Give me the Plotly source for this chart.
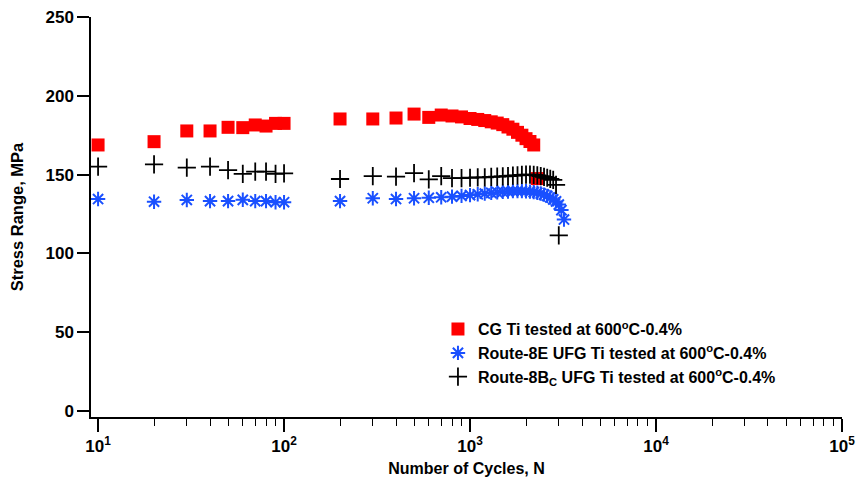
import plotly.graph_objects as go

# ---- data ----
cg_n = [10, 20, 30, 40, 50, 60, 70, 80, 90, 100, 200, 300, 400, 500, 600, 700, 800, 900,
        1000, 1100, 1200, 1300, 1400, 1500, 1600, 1700, 1800, 1900, 2000, 2100, 2200, 2300]
cg_s = [168.8, 170.9, 177.7, 177.7, 180.0, 179.8, 181.5, 180.8, 182.5, 182.5, 185.3, 185.3,
        185.9, 188.4, 186.3, 187.8, 187.2, 186.6, 185.6, 185.0, 184.3, 183.5, 182.7, 181.7,
        180.2, 178.8, 176.8, 175.0, 172.8, 171.0, 168.8, 147.5]

e_n = [10, 20, 30, 40, 50, 60, 70, 80, 90, 100, 200, 300, 400, 500, 600, 700, 800, 900,
       1000, 1100, 1200, 1300, 1400, 1500, 1600, 1700, 1800, 1900, 2000, 2100, 2200, 2300,
       2400, 2500, 2600, 2700, 2800, 2900, 3000, 3100, 3200]
e_s = [134.5, 132.8, 133.9, 133.2, 133.2, 134.0, 133.2, 133.2, 132.5, 132.5, 133.2, 135.0,
       134.5, 135.0, 135.3, 135.6, 136.0, 136.5, 137.0, 137.5, 138.0, 138.4, 138.8, 139.1,
       139.3, 139.5, 139.5, 139.5, 139.4, 139.2, 138.9, 138.5, 138.0, 137.3, 136.5, 135.5,
       134.3, 133.0, 131.0, 127.5, 121.5]

bc_n = [10, 20, 30, 40, 50, 60, 70, 80, 90, 100, 200, 300, 400, 500, 600, 700, 800, 900,
        1000, 1100, 1200, 1300, 1400, 1500, 1600, 1700, 1800, 1900, 2000, 2100, 2200, 2300,
        2400, 2500, 2600, 2700, 2800, 2900, 3000]
bc_s = [155.0, 156.5, 154.4, 155.0, 152.9, 150.4, 151.9, 151.9, 150.4, 150.8, 147.2, 149.0,
        148.7, 151.0, 147.0, 149.0, 147.8, 147.8, 148.0, 148.2, 148.3, 148.5, 148.7, 148.9,
        149.0, 149.3, 149.5, 149.8, 150.0, 150.0, 149.8, 149.5, 149.0, 148.5, 148.0, 147.3,
        146.6, 143.5, 111.5]

x_tickvals = [10, 100, 1000, 10000, 100000]
x_ticktext = ["10<sup>1</sup>", "10<sup>2</sup>", "10<sup>3</sup>", "10<sup>4</sup>", "10<sup>5</sup>"]
y_tickvals = [0, 50, 100, 150, 200, 250]

names = ["CG Ti tested at 600<sup>o</sup>C-0.4%",
         "Route-8E UFG Ti tested at 600<sup>o</sup>C-0.4%",
         "Route-8B<sub>C</sub> UFG Ti tested at 600<sup>o</sup>C-0.4%"]

fig = go.Figure()
fig.add_trace(go.Scatter(x=cg_n, y=cg_s, mode="markers", name=names[0],
                         marker=dict(symbol="square", size=13, color="#ff0000")))
fig.add_trace(go.Scatter(x=e_n, y=e_s, mode="markers", name=names[1],
                         marker=dict(symbol="asterisk-open", size=12,
                                     line=dict(color="#1a50ff", width=2), color="#1a50ff")))
fig.add_trace(go.Scatter(x=bc_n, y=bc_s, mode="markers", name=names[2],
                         marker=dict(symbol="cross-thin-open", size=13,
                                     line=dict(color="black", width=1.8), color="black")))

fig.update_layout(
    width=857, height=479,
    margin=dict(l=91, r=15, t=17, b=62),
    paper_bgcolor="white", plot_bgcolor="white",
    font=dict(family="Liberation Sans, Arial, sans-serif", size=16, color="black", weight="bold"),
    showlegend=True,
    legend=dict(x=0.462, y=0.262, xanchor="left", yanchor="top",
                bgcolor="rgba(0,0,0,0)", font=dict(size=16, weight="bold"),
                tracegroupgap=2),
    xaxis=dict(type="log", range=[0.962, 5.0], tickvals=x_tickvals, ticktext=x_ticktext,
               automargin=False,
               showgrid=False, zeroline=False, showline=True, linecolor="black", linewidth=1.5,
               ticks="outside", ticklen=13, tickwidth=1.5, tickcolor="black",
               tickfont=dict(size=17),
               minor=dict(ticks="outside", ticklen=7, tickwidth=1.2, tickcolor="black",
                          dtick="D1", showgrid=False),
               title=dict(text="Number of Cycles, N", standoff=8, font=dict(size=16, weight="bold"))),
    yaxis=dict(range=[-3.8, 250], tickvals=y_tickvals, automargin=False,
               showgrid=False, zeroline=False, showline=True, linecolor="black", linewidth=1.5,
               ticks="outside", ticklen=12, tickwidth=1.5, tickcolor="black",
               tickfont=dict(size=17),
               title=dict(text="Stress Range, MPa", standoff=18, font=dict(size=16.5, weight="bold"))),
)

fig.write_html("out.html")
